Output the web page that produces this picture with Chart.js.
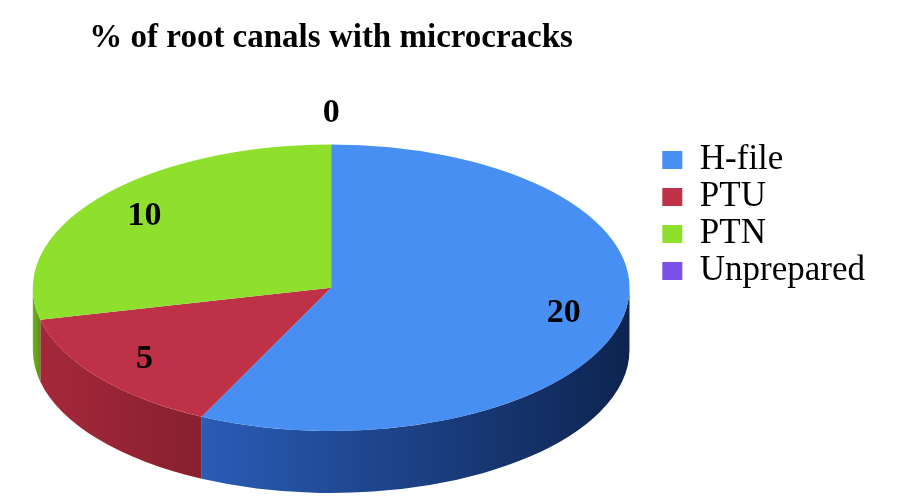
<!DOCTYPE html>
<html>
<head>
<meta charset="utf-8">
<script src="https://cdn.jsdelivr.net/npm/chart.js@4.4.1/dist/chart.umd.min.js"></script>
<style>
html, body { margin: 0; padding: 0; background: #fff; }
#wrap { width: 901px; height: 499px; }
</style>
</head>
<body>
<div id="wrap"><canvas id="myChart"></canvas></div>
<script>
const categories = ['H-file', 'PTU', 'PTN', 'Unprepared'];
const values = [20, 5, 10, 0];
const chartTitle = '% of root canals with microcracks';

const topColors = ['#478ff3', '#bf3146', '#8fe02d', '#7b50e8'];
const sideLight = ['#2a5cb6', '#a5283a', '#6fb020', '#5a38b0'];
const sideDark = ['#0d2450', '#87202f', '#5a9418', '#40288a'];

const TILT = 0.48;   // ry / rx of the top face
const DEPTH = 62;    // thickness of the pie

function ellipseOf(chart) {
    const arc = chart.getDatasetMeta(0).data[0];
    return { cx: arc.x, cy: arc.y, rx: arc.outerRadius / TILT, ry: arc.outerRadius };
}

// fake 3D: draw the side walls, then squash the circle into an ellipse
const pie3d = {
    id: 'pie3d',
    beforeDatasetsDraw(chart) {
        const ctx = chart.ctx;
        const e = ellipseOf(chart);
        chart.getDatasetMeta(0).data.forEach((arc, i) => {
            const a1 = Math.max(arc.startAngle, 0);
            const a2 = Math.min(arc.endAngle, Math.PI);
            if (a2 <= a1) return;
            const xa = e.cx + e.rx * Math.cos(a1);
            const xb = e.cx + e.rx * Math.cos(a2);
            const g = ctx.createLinearGradient(Math.min(xa, xb), 0, Math.max(xa, xb), 0);
            g.addColorStop(0, sideLight[i]);
            g.addColorStop(1, sideDark[i]);
            ctx.save();
            ctx.beginPath();
            ctx.ellipse(e.cx, e.cy, e.rx, e.ry, 0, a1, a2);
            ctx.ellipse(e.cx, e.cy + DEPTH, e.rx, e.ry, 0, a2, a1, true);
            ctx.closePath();
            ctx.fillStyle = g;
            ctx.fill();
            ctx.restore();
        });
        ctx.save();
        ctx.translate(e.cx, e.cy);
        ctx.scale(1 / TILT, 1);
        ctx.translate(-e.cx, -e.cy);
    },
    afterDatasetsDraw(chart) {
        const ctx = chart.ctx;
        ctx.restore();
        const e = ellipseOf(chart);
        ctx.save();
        ctx.font = 'bold 34px "Liberation Serif"';
        ctx.fillStyle = '#000';
        ctx.textAlign = 'center';
        ctx.textBaseline = 'middle';
        chart.getDatasetMeta(0).data.forEach((arc, i) => {
            const mid = (arc.startAngle + arc.endAngle) / 2;
            const f = values[i] === 0 ? 1.22 : 0.8;
            ctx.fillText(String(values[i]), e.cx + e.rx * f * Math.cos(mid), e.cy + e.ry * f * Math.sin(mid));
        });
        ctx.restore();
    }
};

const ctx = document.getElementById('myChart').getContext('2d');
const myChart = new Chart(ctx, {
    type: 'pie',
    data: {
        labels: categories,
        datasets: [{
            data: values,
            backgroundColor: topColors,
            borderWidth: 0,
            clip: false
        }]
    },
    options: {
        responsive: true,
        maintainAspectRatio: false,
        animation: false,
        events: [],
        layout: { padding: { left: 2, right: 26, top: 0, bottom: 68 } },
        plugins: {
            title: {
                display: true,
                text: chartTitle,
                fullSize: false,
                color: '#000',
                font: { family: 'Liberation Serif', size: 33, weight: 'bold', lineHeight: 1.2 },
                padding: { top: 19, bottom: 86 }
            },
            legend: {
                position: 'right',
                align: 'center',
                labels: {
                    boxWidth: 20,
                    boxHeight: 18,
                    padding: 2,
                    color: '#000',
                    font: { family: 'Liberation Serif', size: 35 }
                }
            },
            tooltip: { enabled: false }
        }
    },
    plugins: [pie3d]
});
</script>
</body>
</html>
